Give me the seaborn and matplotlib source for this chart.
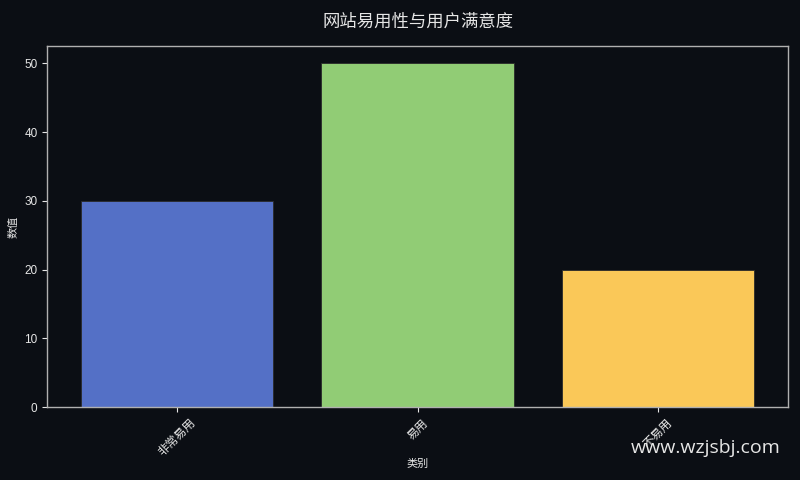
import pandas as pd
import matplotlib
matplotlib.use('Agg')
import matplotlib.pyplot as plt
import seaborn as sns

# chart data
categories = ['非常易用', '易用', '不易用']
values = [30, 50, 20]
bar_colors = ['#5470c6', '#91cc75', '#fac858']

BG = '#0b0e14'
TEXT = '#e6e6e6'
SPINE = '#b0b0b0'

sns.set_theme(style='dark')
plt.rcParams['font.family'] = ['Liberation Sans', 'Noto Sans CJK SC', 'DejaVu Sans']
plt.rcParams['axes.unicode_minus'] = False

df = pd.DataFrame({'类别': categories, '数值': values})

fig = plt.figure(figsize=(8, 4.8), dpi=100, facecolor=BG)
ax = fig.add_axes([0.059, 0.152, 0.926, 0.752])
ax.set_facecolor(BG)

sns.barplot(data=df, x='类别', y='数值', hue='类别', palette=bar_colors,
            order=categories, hue_order=categories, legend=False,
            width=0.8, saturation=1, edgecolor='#2a2a2a', linewidth=0.6, ax=ax)

ax.set_xlim(-0.54, 2.54)
ax.set_ylim(0, 52.5)
ax.set_yticks([0, 10, 20, 30, 40, 50])

ax.set_title('网站易用性与用户满意度', color=TEXT, fontsize=12.5, pad=14,
             family=['Noto Sans CJK SC', 'DejaVu Sans'])
ax.set_xlabel('类别', color=TEXT, fontsize=8, labelpad=0)
ax.set_ylabel('数值', color=TEXT, fontsize=8, labelpad=4)

ax.tick_params(axis='both', colors=TEXT, labelsize=8.5, length=3.5, width=0.8,
               direction='out', bottom=True, left=True)
plt.setp(ax.get_xticklabels(), rotation=45)
ax.grid(False)
for sp in ax.spines.values():
    sp.set_visible(True)
    sp.set_color(SPINE)
    sp.set_linewidth(1.0)

fig.text(0.976, 0.066, 'www.wzjsbj.com', color=TEXT, fontsize=14,
         ha='right', va='center', family=['Open Sans', 'DejaVu Sans'])

fig.savefig('out.png', dpi=100, facecolor=BG)
